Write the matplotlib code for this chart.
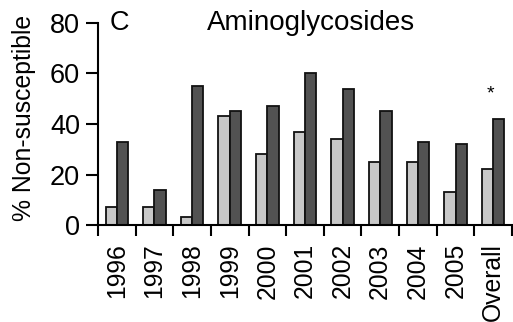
import matplotlib.pyplot as plt
import numpy as np

plt.rcParams["font.family"] = ["Liberation Sans", "DejaVu Sans"]

years = ["1996", "1997", "1998", "1999", "2000", "2001", "2002", "2003", "2004", "2005", "Overall"]
light_pct = [7, 7, 3, 43, 28, 37, 34, 25, 25, 13, 22]
dark_pct = [33, 14, 55, 45, 47, 60, 54, 45, 33, 32, 42]
yticks = [0, 20, 40, 60, 80]

fig = plt.figure(figsize=(5.13, 3.22), dpi=100)
ax = fig.add_axes([0.191, 0.301, 0.807, 0.628])

x = np.arange(len(years))
width = 0.3
ax.bar(x + 0.5 - width / 2, light_pct, width, color="#c8c8c8", edgecolor="#111111", linewidth=1.3)
ax.bar(x + 0.5 + width / 2, dark_pct, width, color="#525252", edgecolor="#111111", linewidth=1.3)

# significance marker over the overall group
ax.text(len(years) - 0.58, 52, "*", ha="center", va="center", fontsize=14)

ax.set_xlim(0, len(years))
ax.set_ylim(0, 80)
ax.set_yticks(yticks)
ax.tick_params(axis="y", labelsize=19.5, length=9, width=1.5, direction="out", pad=4)

# group boundary ticks, labels centred under each pair
ax.set_xticks(np.arange(len(years) + 1))
ax.set_xticklabels([])
ax.set_xticks(x + 0.5, minor=True)
ax.set_xticklabels(years, minor=True, rotation=90, fontsize=17.8)
ax.tick_params(axis="x", which="major", length=8, width=1.5, direction="out")
ax.tick_params(axis="x", which="minor", length=0, pad=13)

for side in ["top", "right"]:
    ax.spines[side].set_visible(False)
for side in ["left", "bottom"]:
    ax.spines[side].set_linewidth(1.5)

ax.set_ylabel("% Non-susceptible", fontsize=17.8)
ax.yaxis.set_label_coords(-0.15, 0.53)
ax.text(0.3, 80, "C", ha="left", va="center", fontsize=19.5)
ax.text(5.65, 80, "Aminoglycosides", ha="center", va="center", fontsize=20)

fig.savefig("out.png", dpi=100)
